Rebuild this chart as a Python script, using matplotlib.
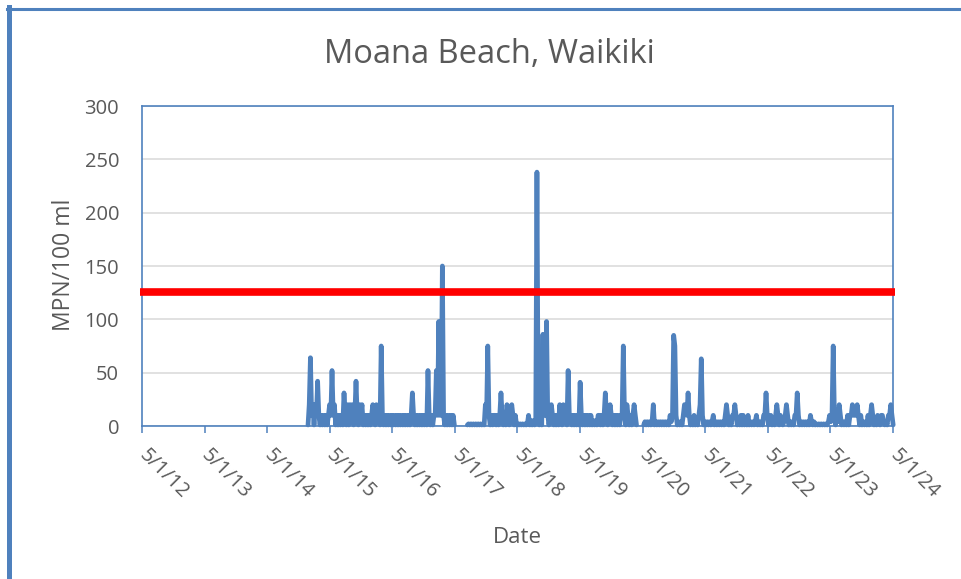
import matplotlib
matplotlib.use("Agg")
import matplotlib.pyplot as plt
import pandas as pd
from matplotlib.lines import Line2D

# ---------------- data ----------------
title = "Moana Beach, Waikiki"
y_label = "MPN/100 ml"
x_label = "Date"
x_tick_labels = ["5/1/12", "5/1/13", "5/1/14", "5/1/15", "5/1/16", "5/1/17",
                 "5/1/18", "5/1/19", "5/1/20", "5/1/21", "5/1/22", "5/1/23", "5/1/24"]
y_ticks = [0, 50, 100, 150, 200, 250, 300]
threshold = 126

# weekly sampling; three sampling periods separated by gaps
sample_interval = "7D"

seg1_start = "2014-12-26"
seg1_values = [
    1, 20, 64, 10, 20, 1, 20, 10, 42, 10,
    1, 10, 1, 10, 1, 10, 1, 10, 20, 10,
    52, 10, 20, 1, 10, 1, 10, 1, 10, 1,
    31, 10, 1, 20, 1, 20, 10, 20, 1, 10,
    42, 10, 1, 20, 10, 20, 1, 10, 1, 10,
    1, 10, 1, 10, 20, 10, 1, 20, 10, 10,
    1, 75, 10, 1, 10, 1, 10, 1, 10, 1,
    10, 1, 10, 1, 10, 1, 10, 1, 10, 1,
    10, 1, 10, 1, 10, 1, 10, 31, 10, 1,
    10, 1, 10, 1, 10, 1, 10, 1, 10, 1,
    52, 10, 1, 10, 1, 10, 10, 52, 10, 98,
    10, 10, 150, 10, 1, 10, 1, 10, 1, 10,
    1, 10, 1,
]

seg2_start = "2017-07-13"
seg2_values = [
    1, 2, 1, 2, 1, 2, 1, 2, 1, 2,
    1, 2, 1, 2, 1, 20, 10, 75, 10, 1,
    10, 1, 10, 10, 1, 10, 1, 10, 31, 10,
    1, 10, 1, 20, 10, 1, 10, 20, 10, 1,
    10, 1, 2, 1, 2, 1, 2, 1, 2, 1,
    2, 10, 1, 5, 1, 5, 1, 5, 238, 10,
    1, 10, 1, 86, 10, 10, 98, 10, 1, 10,
    20, 10, 1, 10, 1, 10, 1, 20, 10, 1,
    20, 10, 10, 1, 52, 10, 10, 1, 10, 1,
    10, 1, 10, 1, 41, 10, 1, 10, 1, 10,
    1, 10, 1, 10, 1, 5, 1, 5, 1, 10,
    10, 1, 10, 1, 10, 31, 10, 1, 10, 20,
    10, 1, 10, 1, 10, 1, 10, 1, 10, 10,
    75, 10, 1, 20, 10, 1, 10, 1, 10, 20,
    10, 1,
]

seg3_start = "2020-05-07"
seg3_values = [
    1, 4, 1, 4, 1, 4, 1, 4, 20, 1,
    4, 1, 4, 1, 4, 1, 4, 1, 4, 1,
    4, 1, 10, 4, 10, 85, 75, 10, 1, 4,
    1, 4, 1, 10, 20, 20, 10, 31, 10, 1,
    4, 1, 10, 1, 4, 1, 10, 20, 63, 10,
    1, 4, 1, 4, 1, 4, 1, 4, 10, 1,
    4, 1, 4, 1, 4, 1, 4, 1, 10, 20,
    10, 1, 4, 1, 10, 10, 20, 10, 1, 4,
    1, 10, 1, 10, 1, 4, 1, 10, 1, 4,
    1, 4, 1, 4, 10, 1, 4, 1, 4, 1,
    10, 10, 31, 10, 1, 4, 10, 1, 4, 1,
    10, 20, 10, 1, 10, 4, 1, 4, 10, 20,
    10, 1, 4, 1, 4, 1, 10, 10, 31, 10,
    1, 4, 1, 4, 1, 4, 1, 4, 1, 10,
    4, 1, 4, 1, 2, 1, 2, 1, 2, 1,
    2, 1, 2, 1, 4, 10, 4, 10, 75, 10,
    1, 10, 4, 20, 10, 1, 4, 1, 4, 1,
    10, 1, 10, 10, 20, 10, 10, 10, 20, 10,
    1, 10, 1, 4, 1, 4, 1, 10, 1, 10,
    20, 10, 1, 4, 1, 10, 4, 1, 10, 10,
    4, 1, 4, 1, 10, 10, 20, 10, 1,
]

# ---------------- style ----------------
W, H = 961, 579
BLUE = "#4F81BD"
TXT = "#595959"
plt.rcParams["font.family"] = ["Open Sans", "DejaVu Sans"]

fig = plt.figure(figsize=(W / 100, H / 100), dpi=100)
fig.patch.set_facecolor("white")

L, R, T, B = 142, 893, 106, 426
ax = fig.add_axes([L / W, 1 - B / H, (R - L) / W, (B - T) / H])

segments = [(seg1_start, seg1_values), (seg2_start, seg2_values), (seg3_start, seg3_values)]
for start, vals in segments:
    dates = pd.date_range(start=start, periods=len(vals), freq=sample_interval)
    ax.plot(dates, vals, color=BLUE, lw=3.4, solid_joinstyle="round",
            solid_capstyle="round", zorder=3, clip_on=False)

ax.axhline(threshold, xmin=-0.003, xmax=1.003, color="#FF0000", lw=5.5,
           zorder=4, clip_on=False, solid_capstyle="butt")

tick_dates = pd.to_datetime(x_tick_labels, format="%m/%d/%y")
ax.set_xlim(tick_dates[0], tick_dates[-1])
ax.set_ylim(y_ticks[0], y_ticks[-1])
ax.set_yticks(y_ticks)
ax.set_xticks(tick_dates)
ax.set_xticklabels(x_tick_labels, rotation=-45, ha="left", va="center",
                   rotation_mode="anchor")

ax.yaxis.grid(True, color="#D9D9D9", lw=1.1)
ax.set_axisbelow(True)
for s in ax.spines.values():
    s.set_color(BLUE)
    s.set_linewidth(1.2)

ax.tick_params(axis="y", length=0, pad=16.5, labelsize=14.5, labelcolor=TXT)
ax.tick_params(axis="x", length=5, width=1.1, color=BLUE, pad=14,
               labelsize=14.5, labelcolor=TXT)

fig.text(489 / W, 1 - 63 / H, title, ha="center", va="baseline",
         fontsize=23.5, color=TXT)
fig.text(517 / W, 1 - 543 / H, x_label, ha="center", va="baseline",
         fontsize=16, color=TXT)
fig.text(70 / W, 1 - 265 / H, y_label, ha="center", va="baseline",
         rotation=90, rotation_mode="anchor", fontsize=16.5, color=TXT)

# outer chart border (only left and top edges visible in the frame)
fig.add_artist(Line2D([9.3 / W, 9.3 / W], [1 - 7.3 / H, -0.05],
                      transform=fig.transFigure, color=BLUE, lw=3.6))
fig.add_artist(Line2D([7 / W, 1.05], [1 - 8.8 / H, 1 - 8.8 / H],
                      transform=fig.transFigure, color=BLUE, lw=2.2))

fig.savefig("out.png", dpi=100)
